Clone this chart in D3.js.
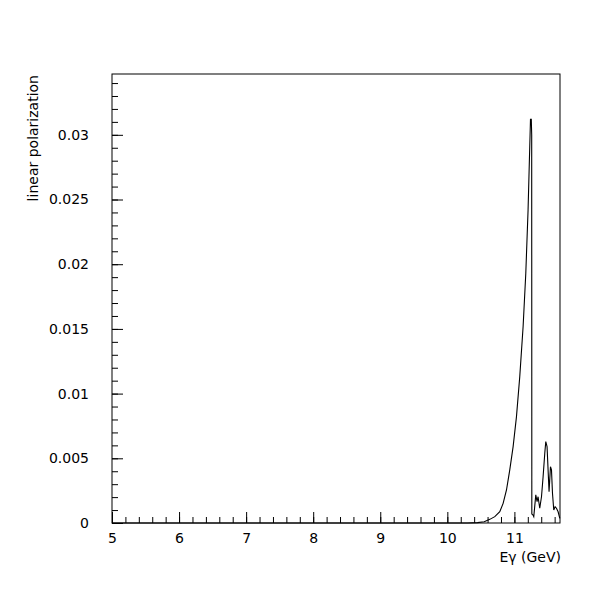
<!DOCTYPE html>
<html>
<head>
<meta charset="utf-8">
<script src="https://cdn.jsdelivr.net/npm/d3@7"></script>
<style>
  body { margin: 0; background: #fff; }
  svg { display: block; }
  text { font-family: "DejaVu Sans", sans-serif; fill: #000; }
</style>
</head>
<body>
<svg width="600" height="600"></svg>
<script>
// photon energy (GeV) and linear polarization
const energy = [5, 10.3, 10.45, 10.55, 10.633, 10.708, 10.782, 10.832, 10.882, 10.931,
  10.981, 11.031, 11.08, 11.13, 11.17, 11.204, 11.229, 11.24, 11.252, 11.258,
  11.26, 11.279, 11.289, 11.319, 11.338, 11.353, 11.378, 11.404, 11.428, 11.453,
  11.468, 11.487, 11.508, 11.517, 11.538, 11.553, 11.568, 11.587, 11.607, 11.627,
  11.652, 11.677];
const polarization = [0, 0, 0.00003, 0.0001, 0.00028, 0.00049, 0.00087, 0.00152, 0.00255, 0.0041,
  0.0059, 0.00822, 0.01131, 0.01518, 0.0193, 0.0242, 0.0291, 0.0312, 0.0312, 0.0300,
  0.0007, 0.0006, 0.00049, 0.00217, 0.00165, 0.00203, 0.00114, 0.00203, 0.00358, 0.00539,
  0.00629, 0.0059, 0.00345, 0.00242, 0.00435, 0.0041, 0.0023, 0.001, 0.00126, 0.00114,
  0.00087, 0.00036];

const xTicks = [5, 6, 7, 8, 9, 10, 11];
const yTicks = [0, 0.005, 0.01, 0.015, 0.02, 0.025, 0.03];
const yTickLabels = ['0', '0.005', '0.01', '0.015', '0.02', '0.025', '0.03'];
const xTitle = 'E\u03b3 (GeV)';
const yTitle = 'linear polarization';

const svg = d3.select('svg');
const frameL = 112, frameR = 560, frameT = 74, frameB = 523;

const x = d3.scaleLinear().domain([5, 11.68]).range([frameL, frameR]);
const y = d3.scaleLinear().domain([0, 0.0347]).range([frameB, frameT]);

// minor ticks
const xMinor = d3.range(0, 34).map(i => 5 + i * 0.2);
const yMinor = d3.range(0, 35).map(i => i * 0.001);

svg.append('g')
  .attr('transform', 'translate(0,' + frameB + ')')
  .call(d3.axisBottom(x).tickValues(xMinor).tickSize(-6).tickFormat(''))
  .call(g => g.select('.domain').remove());

svg.append('g')
  .attr('transform', 'translate(' + frameL + ',0)')
  .call(d3.axisLeft(y).tickValues(yMinor).tickSize(-6).tickFormat(''))
  .call(g => g.select('.domain').remove());

// major ticks with labels
svg.append('g')
  .attr('transform', 'translate(0,' + frameB + ')')
  .call(d3.axisBottom(x).tickValues(xTicks).tickSize(-11).tickPadding(10).tickFormat(d => d))
  .call(g => g.select('.domain').remove())
  .selectAll('text')
  .style('font-size', '14px');

svg.append('g')
  .attr('transform', 'translate(' + frameL + ',0)')
  .call(d3.axisLeft(y).tickValues(yTicks).tickSize(-11).tickPadding(23)
    .tickFormat((d, i) => yTickLabels[i]))
  .call(g => g.select('.domain').remove())
  .selectAll('text')
  .style('font-size', '14px');

svg.selectAll('.tick line').attr('stroke', '#000');

// frame
svg.append('rect')
  .attr('x', frameL)
  .attr('y', frameT)
  .attr('width', frameR - frameL)
  .attr('height', frameB - frameT)
  .attr('fill', 'none')
  .attr('stroke', '#000')
  .attr('stroke-width', 1);

// curve
const pts = energy.map((e, i) => [e, polarization[i]]);
const line = d3.line()
  .x(d => x(d[0]))
  .y(d => y(d[1]));

svg.append('path')
  .datum(pts)
  .attr('d', line)
  .attr('fill', 'none')
  .attr('stroke', '#000')
  .attr('stroke-width', 1.1);

// titles
svg.append('text')
  .attr('x', 561)
  .attr('y', 562)
  .attr('text-anchor', 'end')
  .style('font-size', '14px')
  .text(xTitle);

svg.append('text')
  .attr('transform', 'translate(38,75) rotate(-90)')
  .attr('text-anchor', 'end')
  .style('font-size', '14px')
  .text(yTitle);
</script>
</body>
</html>
